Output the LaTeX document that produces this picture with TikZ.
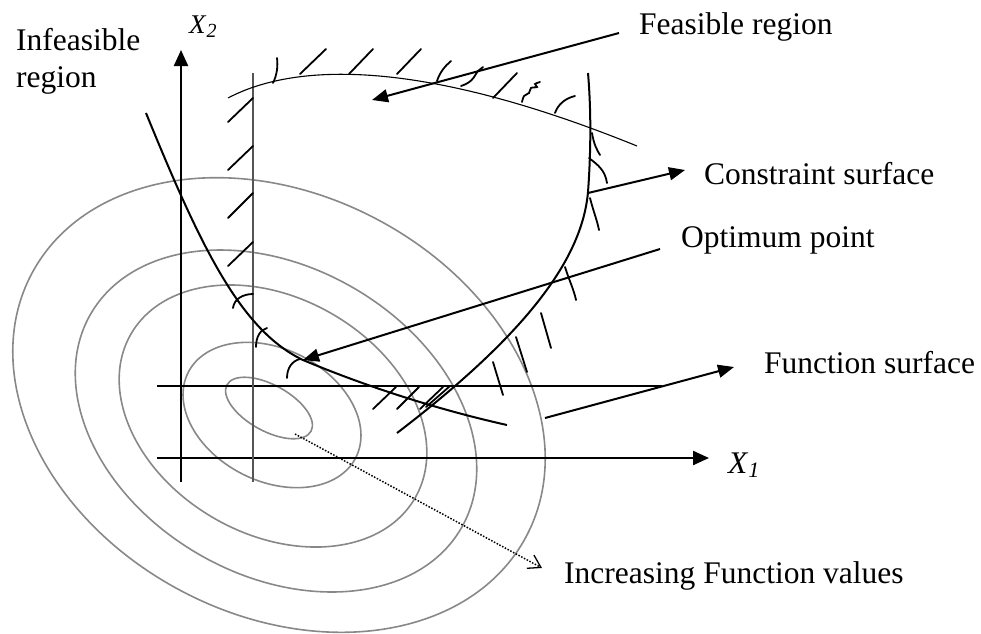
\documentclass[tikz,border=0pt]{standalone}
\usepackage{fontspec}
\setmainfont{Liberation Serif}
\usetikzlibrary{arrows.meta}
\definecolor{ellgray}{RGB}{136,136,136}
\definecolor{vgray}{RGB}{85,85,85}
\begin{document}
\begin{tikzpicture}[x=1pt,y=-1pt,
  lbl/.style={inner sep=0pt, anchor=base west, font=\fontsize{31.5}{37}\selectfont},
  axislbl/.style={inner sep=0pt, anchor=base west},
  axis/.style={line width=2.3pt, -{Triangle[length=16pt,width=14pt]}},
  bar/.style={line width=2.3pt},
  ell/.style={draw=ellgray, line width=1.6pt},
  cons/.style={line width=2pt},
  arcline/.style={line width=1.1pt},
  hatch/.style={line width=1.8pt, line cap=round},
  pointer/.style={line width=2pt, -{Triangle[length=16pt,width=13pt]}},
  dotptr/.style={line width=1.5pt, dash pattern=on 1.5pt off 1.6pt, -{Straight Barb[length=12pt,width=15pt,line width=1.3pt]}},
]
\useasboundingbox (0,0) rectangle (981,633);

% ellipses (function contours)
\draw[ell, shift={(269,408)}, rotate=-29] (0,0) ellipse [x radius=48pt, y radius=23pt];
\draw[ell, shift={(272,415)}, rotate=-27] (0,0) ellipse [x radius=94pt, y radius=66pt];
\draw[ell, shift={(273,416)}, rotate=-30] (0,0) ellipse [x radius=164pt, y radius=118pt];
\draw[ell, shift={(276,421)}, rotate=-30] (0,0) ellipse [x radius=214pt, y radius=154pt];
\draw[ell, shift={(279,405)}, rotate=-28] (0,0) ellipse [x radius=280pt, y radius=210pt];

% axes and lines
\coordinate (ybot) at (181,482);
\coordinate (ytop) at (181,50);
\coordinate (xleft) at (157,458);
\coordinate (xright) at (709,458);
\coordinate (hleft) at (157,386);
\coordinate (hright) at (662,386);
\coordinate (vtop) at (253,73);
\coordinate (vbot) at (253,482);
\draw[axis] (ybot) -- (ytop);
\draw[axis] (xleft) -- (xright);
\draw[bar] (hleft) -- (hright);
\draw[line width=1.8pt, draw=vgray] (vbot) -- (vtop);

% constraint curves
\draw[cons] (146,113) .. controls (200,245) and (240,330) .. (303,360)
            .. controls (370,388) and (440,410) .. (507,425);
\draw[cons] (588,73) .. controls (592,120) and (590,165) .. (588,192)
            .. controls (582,260) and (525,335) .. (397,433);
\draw[arcline] (228,98) .. controls (300,60) and (430,62) .. (637,146);

% hatches on vertical line
\draw[hatch] (228,122) -- (253,98);
\draw[hatch] (228,170) -- (253,146);
\draw[hatch] (228,218) -- (253,193);
\draw[hatch] (228,266) -- (253,242);
% hatches along left constraint
\draw[hatch] (233,308) .. controls (234,299) and (243,294) .. (253,294);
\draw[hatch] (256,347) .. controls (256,337) and (260,330) .. (267,328);
\draw[hatch] (287,378) .. controls (287,368) and (292,361) .. (300,359);
% hatches along top arc
\draw[hatch] (273,83) .. controls (277,75) and (278,66) .. (277,58);
\draw[hatch] (300,74) -- (326,49);
\draw[hatch] (349,74) -- (373,49);
\draw[hatch] (397,74) -- (421,49);
\draw[hatch] (437,81) .. controls (440,72) and (445,66) .. (451,61);
\draw[hatch] (461,86) .. controls (474,82) and (475,74) .. (478,71) -- (483,67);
\draw[hatch] (493,98) -- (517,73);
\draw[hatch] plot[smooth] coordinates {(522,102) (524,96) (529,93) (531,88) (537,87) (535,84) (540,82)};
\draw[hatch] (555,113) .. controls (558,104) and (566,98) .. (575,96);
% hatches along right constraint
\draw[hatch] (592,133) .. controls (594,145) and (597,150) .. (600,155);
\draw[hatch] (589,158) .. controls (598,165) and (605,170) .. (607,183);
\draw[hatch] (590,198) .. controls (593,210) and (597,220) .. (599,230);
\draw[hatch] (565,267) .. controls (569,280) and (574,290) .. (576,300);
\draw[hatch] (541,313) -- (551,348);
\draw[hatch] (516,337) -- (527,372);
\draw[hatch] (493,362) -- (503,395);
% hatches near lower junction
\draw[hatch] (373,409) -- (396,387);
\draw[hatch] (397,409) -- (419,387);
\draw[hatch] (420,409) -- (443,387);
\draw[hatch] (426,407) -- (450,386);

% labels
\node[lbl] (infeas1) at (16,50) {Infeasible};
\node[lbl] (infeas2) at (16,87) {region};
\node[axislbl, font=\fontsize{27}{30}\selectfont] (x2) at (189,33) {\textit{X}\raisebox{-4pt}{\fontsize{20}{20}\selectfont\textit{2}}};
\node[axislbl, font=\fontsize{31.5}{37}\selectfont] (x1) at (728,473) {\textit{X}\raisebox{-4pt}{\fontsize{22}{22}\selectfont\textit{1}}};
\node[lbl] (feas) at (639,34) {Feasible region};
\node[lbl] (cons) at (704,184) {Constraint surface};
\node[lbl] (opt) at (681,247) {Optimum point};
\node[lbl] (fsurf) at (764,373) {Function surface};
\node[lbl] (incr) at (564,583) {Increasing Function values};

% pointer arrows
\coordinate (feasA) at (619,33);
\coordinate (feasB) at (372,100);
\coordinate (consA) at (588,193);
\coordinate (consB) at (685,170);
\coordinate (optA) at (660,249);
\coordinate (optB) at (303,360);
\coordinate (fsA) at (545,418);
\coordinate (fsB) at (734,367);
\coordinate (incA) at (295,434);
\coordinate (incB) at (542,568);
\draw[pointer] (feasA) -- (feasB);
\draw[pointer] (consA) -- (consB);
\draw[pointer] (optA) -- (optB);
\draw[pointer] (fsA) -- (fsB);
\draw[dotptr] (incA) -- (incB);
\end{tikzpicture}
\end{document}
